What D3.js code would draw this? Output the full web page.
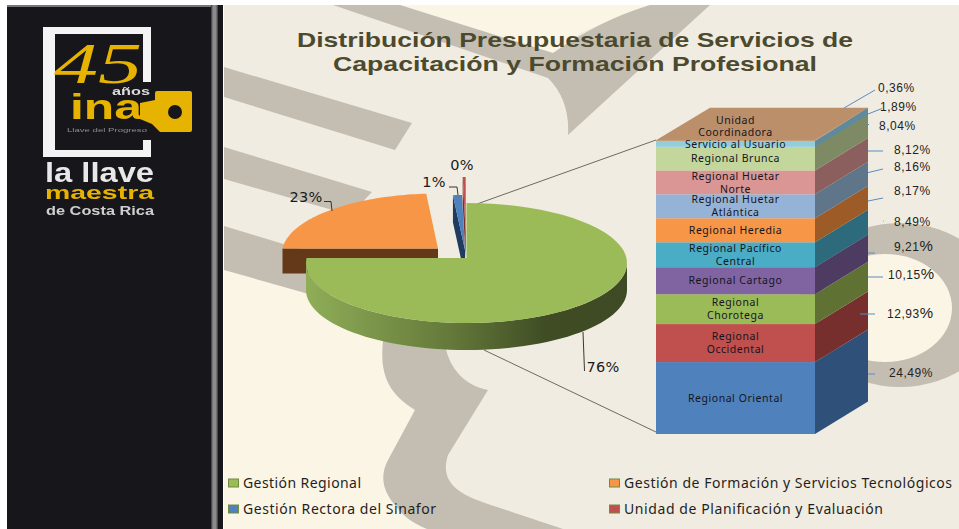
<!DOCTYPE html>
<html><head><meta charset="utf-8">
<script src="https://cdn.jsdelivr.net/npm/d3@7"></script>
<style>html,body{margin:0;padding:0;background:#fff;overflow:hidden}svg{display:block}</style>
</head><body><svg id="c" width="959" height="529"></svg>
<script>
// ---- data ----
const pieCategories=["Gestión Regional","Gestión de Formación y Servicios Tecnológicos","Gestión Rectora del Sinafor","Unidad de Planificación y Evaluación"];
const pieValues=[76.3,22.5,0.9,0.3];
const pieLabels=["76%","23%","1%","0%"];
const pieColors=["#9BBB59","#F79646","#4F81BD","#C0504D"];
const pieSideColors=["#5F7436","#63391A","#1F3C60","#7A2F2D"];
const stackCategories=[["Regional Oriental"],["Regional","Occidental"],["Regional","Chorotega"],["Regional Cartago"],["Regional Pacífico","Central"],["Regional Heredia"],["Regional Huetar","Atlántica"],["Regional Huetar","Norte"],["Regional Brunca"],["Servicio al Usuario"],["Unidad","Coordinadora"]];
const stackValues=[24.49,12.93,10.15,9.21,8.49,8.17,8.16,8.12,8.04,1.89,0.36];
const stackLabels=["24,49","12,93","10,15","9,21","8,49","8,17","8,16","8,12","8,04","1,89","0,36"];
const stackColors=["#4F81BD","#C0504D","#9BBB59","#8064A2","#4BACC6","#F79646","#95B3D7","#D99694","#C3D69B","#92CDDC","#BC8F6B"];
const stackSideColors=["#2F5079","#772F2D","#5F7234","#4E3B62","#2C6A7C","#9C5B27","#5F7589","#8A5F5E","#7D8A64","#5B8A9B","#BC8F6B"];
const titleLines=["Distribución Presupuestaria de Servicios de","Capacitación y Formación Profesional"];

// ---- layout ----
const svg=d3.select("#c");
const defs=svg.append("defs");
const line=d3.line().x(d=>d[0]).y(d=>d[1]);
const closed=p=>line(p)+"Z";
const W=959,H=529;
const BASE="#F1ECE1",CREAM="#FBF5E6",GRAY="#C4BEB2",DARK="#17161B";

// background
const bg=svg.append("g");
defs.append("filter").attr("id","soft").append("feGaussianBlur").attr("stdDeviation",0.6);
defs.append("filter").attr("id","soft2").append("feGaussianBlur").attr("stdDeviation",0.45);
bg.append("rect").attr("x",0).attr("y",0).attr("width",W).attr("height",H).attr("fill","#fff");
const paper=bg.append("g").attr("filter","url(#soft)");
paper.append("rect").attr("x",224).attr("y",5).attr("width",W-224).attr("height",H-5).attr("fill",BASE);
// cream lower-left (its right edge runs beneath the ribbon) and top wedge
paper.append("path").attr("fill",CREAM).attr("d","M224,266 L400,325 L415,400 L405,470 L470,529 L224,529Z");
paper.append("path").attr("fill",CREAM).attr("d","M400,5 L553,53 L582,32 L650,5Z");
// top V
paper.append("path").attr("fill",GRAY).attr("d","M333,5 L400,5 L553,53 Q600,20 650,5 L710,5 L568,135 Q570,100 548,78 Z");
// diagonal bars
[[[224,67],[412,123],[395,150],[224,97]],[[224,147],[372,192],[350,215],[224,179]],[[224,226],[330,258],[330,300],[224,270]]]
 .forEach(p=>paper.append("path").attr("fill",GRAY).attr("d",closed(p)));
// S-shaped ribbon
paper.append("path").attr("fill",GRAY).attr("d","M383,340 C380,370 385,392 415,410 L388,460 C380,475 382,490 395,505 C402,515 412,523 427,529 L563,529 L485,503 C455,493 440,480 448,455 L488,390 C465,385 450,370 445,345Z");
// ring
paper.append("ellipse").attr("cx",900).attr("cy",305).attr("rx",100).attr("ry",82).attr("fill",GRAY);
paper.append("ellipse").attr("cx",885).attr("cy",308).attr("rx",67).attr("ry",54).attr("fill",CREAM);

// sidebar
bg.append("rect").attr("x",7).attr("y",5).attr("width",204).attr("height",H).attr("fill",DARK);
bg.append("rect").attr("x",7).attr("y",5).attr("width",204).attr("height",2).attr("fill","#77767a");
const bandGrad=defs.append("linearGradient").attr("id","band");
[[0,"#333"],[.3,"#8d8d8d"],[.7,"#8a8a8a"],[1,"#333"]].forEach(s=>bandGrad.append("stop").attr("offset",s[0]).attr("stop-color",s[1]));
bg.append("rect").attr("x",211).attr("y",5).attr("width",7).attr("height",H).attr("fill","url(#band)");
bg.append("rect").attr("x",218).attr("y",5).attr("width",5).attr("height",H).attr("fill",DARK);

// logo
const YEL="#E5B300";
const logo=svg.append("g").attr("filter","url(#soft2)");
logo.append("path").attr("fill","#f4f4f4").attr("fill-rule","evenodd")
 .attr("d","M43,27 H151 V82 H143 V34 H55 V150 H143 V140 H151 V157 H43Z");
logo.append("text").attr("x",54).attr("y",83).attr("font-family","Liberation Serif").attr("font-style","italic").attr("font-size",58).attr("fill",YEL).attr("textLength",88).attr("lengthAdjust","spacingAndGlyphs").text("45");
logo.append("text").attr("x",112).attr("y",95).attr("font-family","Liberation Sans").attr("font-weight","bold").attr("font-size",10).attr("fill","#ddd").attr("textLength",38).attr("lengthAdjust","spacingAndGlyphs").text("años");
logo.append("text").attr("x",70).attr("y",119).attr("font-family","Liberation Sans").attr("font-weight","bold").attr("font-size",35).attr("fill",YEL).attr("textLength",72).attr("lengthAdjust","spacingAndGlyphs").text("ina");
logo.append("path").attr("fill",YEL).attr("d","M140,103 L155,100 V93 Q155,91 157,91 H190 Q192,91 192,93 V130 Q192,132 190,132 H160 L152,124 L140,119Z");
logo.append("circle").attr("cx",175).attr("cy",112).attr("r",7).attr("fill",DARK);
logo.append("text").attr("x",67).attr("y",132).attr("font-family","Liberation Sans").attr("font-size",5.5).attr("fill","#8d8d8d").attr("textLength",80).attr("lengthAdjust","spacingAndGlyphs").text("Llave del Progreso");
[["la llave",45,182,27,109,"#e8e8e8"],["maestra",45,199,19,109,YEL],["de Costa Rica",46,215,12,108,"#cfcfcf"]].forEach(t=>
 logo.append("text").attr("x",t[1]).attr("y",t[2]).attr("font-family","Liberation Sans").attr("font-weight","bold").attr("font-size",t[3]).attr("fill",t[5]).attr("textLength",t[4]).attr("lengthAdjust","spacingAndGlyphs").text(t[0]));

// title
const titleWidths=[556,484],titleBase=[47,71],titleX=575;
titleLines.forEach((t,i)=>svg.append("text").attr("x",titleX).attr("y",titleBase[i]).attr("text-anchor","middle")
 .attr("font-family","Liberation Sans").attr("font-weight","bold").attr("font-size",21).attr("fill","#4C4A2E")
 .attr("textLength",titleWidths[i]).attr("lengthAdjust","spacingAndGlyphs").text(t));

// connectors (drawn beneath marks)
const conn="#4c4a36";
svg.append("path").attr("fill","none").attr("stroke",conn).attr("stroke-width",0.8).attr("d",line([[477,204],[656,140]]));
svg.append("path").attr("fill","none").attr("stroke",conn).attr("stroke-width",0.8).attr("d",line([[484,350],[656,432]]));

// pie
const pieAngles=d3.pie().sort(null).value(d=>d)(pieValues);
const RXS=[160.5,156,160.5,160.5],RY=60,RIMDY=5;
const explode=[[466.5,258],[438,248.5],[465,250],[465.7,232]];
const pieDepth=[27,25,27,27];
const rim=(i,t)=>[explode[i][0]+RXS[i]*Math.sin(t),explode[i][1]+RIMDY-RY*Math.cos(t)];
const sample=(a,b)=>d3.range(0,61).map(k=>a+(b-a)*k/60);
const down=(p,d)=>[p[0],p[1]+d];
const gGrad=defs.append("linearGradient").attr("id","gside").attr("gradientUnits","userSpaceOnUse").attr("x1",306).attr("x2",627).attr("y1",0).attr("y2",0);
[[0,"#8FAE57"],[.45,"#64793A"],[.75,"#3F4C24"],[1,"#3D4A23"]].forEach(s=>gGrad.append("stop").attr("offset",s[0]).attr("stop-color",s[1]));
const pieG=svg.append("g");
// draw exploded slices first, the large slice on top
[1,2,3,0].forEach(i=>{
  const a=pieAngles[i],ap=explode[i],d=pieDepth[i];
  if(i===0){
    const arc=sample(Math.PI/2,Math.PI*1.5).map(t=>rim(0,t));
    pieG.append("path").attr("fill","url(#gside)").attr("d",closed(arc.concat(arc.map(p=>down(p,d)).reverse())));
    const l=rim(0,a.endAngle);
    pieG.append("path").attr("fill","#8FAE57").attr("d",closed([rim(0,Math.PI*1.5),l,down(l,d),down(rim(0,Math.PI*1.5),d)]));
  } else {
    const s=rim(i,a.startAngle);
    pieG.append("path").attr("fill",pieSideColors[i]).attr("d",closed([s,ap,down(ap,d),down(s,d)]));
  }
  const pts=[ap].concat(sample(a.startAngle,a.endAngle).map(t=>rim(i,t)));
  pieG.append("path").attr("fill",pieColors[i]).attr("d",closed(pts));
});
// pie labels
const pieLabelPos=[[603,372],[306,202],[434,187],[462,170]];
const pieLeaders=[[[583,332],[584.5,371]],[[324,201.5],[331,201.5],[332,211]],[[449,187],[457,187],[458,195]],[]];
pieLabels.forEach((t,i)=>{
  svg.append("text").attr("x",pieLabelPos[i][0]).attr("y",pieLabelPos[i][1]).attr("text-anchor","middle")
   .attr("font-family","DejaVu Sans").attr("font-size",14.5).attr("letter-spacing",0.2).attr("fill","#1a1a1a").text(t);
  if(pieLeaders[i].length) svg.append("path").attr("fill","none").attr("stroke","#222").attr("stroke-width",0.9).attr("d",line(pieLeaders[i]));
});

// stacked bar of pie
const X0=656,X1=815,DX=53,DY=32.5;
const yStack=d3.scaleLinear().domain([0,d3.sum(stackValues)]).range([434,140.2]);
const barG=svg.append("g");
let acc=0;
const segs=stackValues.map((v,i)=>{const s={i,lo:acc,hi:acc+v};acc+=v;return s;});
segs.forEach(s=>{
  const y0=yStack(s.lo),y1=yStack(s.hi);
  barG.append("rect").attr("x",X0).attr("y",y1).attr("width",X1-X0).attr("height",y0-y1).attr("fill",stackColors[s.i]);
  barG.append("path").attr("fill",stackSideColors[s.i]).attr("d",closed([[X1,y0],[X1+DX,y0-DY],[X1+DX,y1-DY],[X1,y1]]));
});
const yTop=yStack(d3.sum(stackValues));
barG.append("path").attr("fill",stackColors[10]).attr("d",closed([[X0,yTop],[X0+DX+1,yTop-DY],[X1+DX,yTop-DY],[X1,yTop]]));
barG.append("path").attr("fill","#5E8A9B").attr("d",closed([[X1,yTop+1],[X1+DX,yTop-DY],[X1+DX,yTop-DY+7],[X1,yTop+7]]));
// segment names
const LH=13,CX=735.5;
segs.forEach(s=>{
  const lines=stackCategories[s.i];
  let cy=(yStack(s.lo)+yStack(s.hi))/2;
  if(s.i===10) cy=126.5;
  lines.forEach((t,k)=>barG.append("text").attr("x",CX).attr("y",cy+(k-(lines.length-1)/2)*(s.i===10?12:LH)).attr("dy","0.35em").attr("text-anchor","middle")
    .attr("font-family","Noto Sans").attr("font-size",10.5).attr("letter-spacing",0.55).attr("fill","#15151f").text(t));
});
// data labels with leader lines
const valueLabelPos=[[889,373],[887,314],[888,275],[894,247],[894,222],[894,191],[894,167],[894,150],[879,126],[880,107],[878,88]];
const valueLeaders=[[[868,374],[875,374]],[[860,314],[875,314]],[[868,277],[883,277]],[[868,253],[875,253]],[[883,221],[883.6,221]],[[868,201],[883,198]],[[868,172.6],[883,169]],[[868,151],[883,151]],[[868,124],[869,125]],[[868,114],[882,108.5]],[[844,108],[875,90]]];
const bigPct=new Set(["12,93","10,15","9,21"]);
stackLabels.forEach((t,i)=>{
  svg.append("path").attr("fill","none").attr("stroke","#5B8BC4").attr("stroke-width",1).attr("d",line(valueLeaders[i]));
  const txt=svg.append("text").attr("x",valueLabelPos[i][0]).attr("y",valueLabelPos[i][1]).attr("dy","0.35em")
   .attr("font-family","Liberation Sans").attr("font-size",12).attr("letter-spacing",0.55).attr("fill","#222");
  txt.append("tspan").text(t);
  txt.append("tspan").attr("font-size",bigPct.has(t)?15:12).text("%");
});

// legend
const legendPos=[[228,483],[609,483],[228,509],[609,509]];
const legendWidths=[118,328,193,259];
pieCategories.forEach((t,i)=>{
  const p=legendPos[i];
  svg.append("rect").attr("x",p[0]+.5).attr("y",p[1]-4).attr("width",10).attr("height",8).attr("fill",pieColors[i]).attr("stroke","#6F8B3E").attr("stroke-width",1);
  svg.append("text").attr("x",p[0]+15).attr("y",p[1]).attr("dy","0.35em").attr("font-family","Noto Sans").attr("font-size",14)
   .attr("fill","#1f1f1f").attr("textLength",legendWidths[i]).attr("lengthAdjust","spacing").text(t);
});
</script></body></html>
